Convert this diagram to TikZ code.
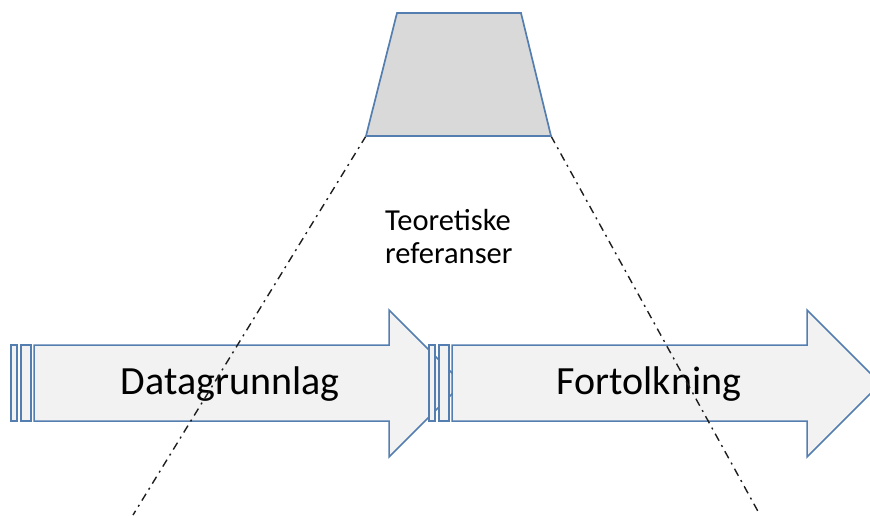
\documentclass[tikz,border=0pt]{standalone}
\usepackage{fontspec}
\setmainfont{Carlito}
\definecolor{edgeblue}{RGB}{84,126,176}
\definecolor{arrowfill}{RGB}{242,242,242}
\definecolor{capfill}{RGB}{217,217,217}
\definecolor{guide}{RGB}{30,30,30}
\tikzset{
  arrowshape/.style={draw=edgeblue, fill=arrowfill, line width=1.5pt, line join=miter},
  capshape/.style={draw=edgeblue, fill=capfill, line width=1.7pt, line join=miter},
  guideline/.style={draw=guide, line width=1.4pt, dash pattern=on 8pt off 5pt on 2pt off 5pt},
  biglabel/.style={font=\fontsize{40}{48}\selectfont, text=black, inner sep=0pt, anchor=base},
  smalllabel/.style={font=\fontsize{30.5}{33}\selectfont, text=black, inner sep=0pt, anchor=base west, align=left}
}
\begin{document}
\begin{tikzpicture}[x=1pt,y=-1pt]
  \useasboundingbox (0,0) rectangle (870,515);
  \clip (0,0) rectangle (870,515);

  % trapezium corners
  \coordinate (capTL) at (397,13);
  \coordinate (capTR) at (521,13);
  \coordinate (capBR) at (551,136);
  \coordinate (capBL) at (366,136);
  % free ends of the guide lines
  \coordinate (guideL) at (133,515);
  \coordinate (guideR) at (760,515);

  % first striped arrow
  \draw[arrowshape] (11,345) rectangle (17,421);
  \draw[arrowshape] (21,345) rectangle (31,421);
  \draw[arrowshape] (34,345) -- (389,345) -- (389,310) -- (462.5,383.5)
        -- (389,457) -- (389,421) -- (34,421) -- cycle;

  % second striped arrow
  \draw[arrowshape] (429,345) rectangle (435,421);
  \draw[arrowshape] (439,345) rectangle (449,421);
  \draw[arrowshape] (452,345) -- (807,345) -- (807,310) -- (880.5,383.5)
        -- (807,457) -- (807,421) -- (452,421) -- cycle;

  \node[biglabel] (data) at (230,394) {Datagrunnlag};
  \node[biglabel] (tolk) at (649,394) {Fortolkning};

  % guide lines from the trapezium corners
  \draw[guideline] (capBL) -- (guideL);
  \draw[guideline] (capBR) -- (guideR);

  \draw[capshape] (capTL) -- (capTR) -- (capBR) -- (capBL) -- cycle;

  % anchored at the baseline of the second line
  \node[smalllabel] (teori) at (385,263) {Teoretiske\\referanser};
\end{tikzpicture}
\end{document}
